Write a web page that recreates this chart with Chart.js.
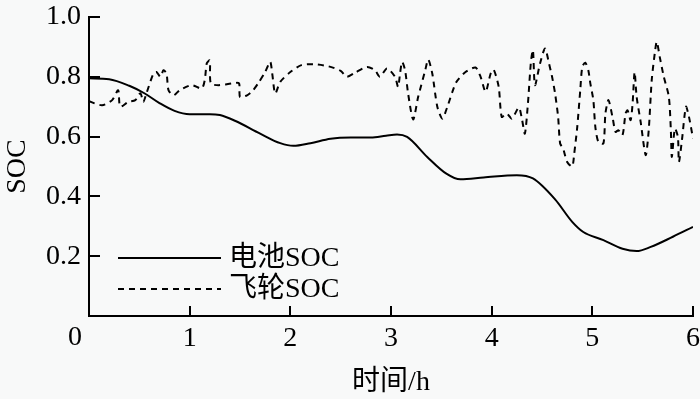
<!DOCTYPE html>
<html>
<head>
<meta charset="utf-8">
<script src="https://cdn.jsdelivr.net/npm/chart.js@4.4.1/dist/chart.umd.min.js"></script>
<style>
html,body{margin:0;padding:0;background:#f8f9f9}
#wrap{width:700px;height:399px}
</style>
</head>
<body>
<div id="wrap"><canvas id="grafico" width="700" height="399"></canvas></div>
<script>
// battery SOC (smooth)
let batTime = [0,0.2,0.4,0.55,0.7,0.85,1.0,1.2,1.3,1.45,1.7,1.9,2.03,2.2,2.4,2.6,2.8,2.95,3.06,3.16,3.36,3.55,3.69,3.92,4.25,4.41,4.63,4.8,4.91,5.11,5.3,5.44,5.58,5.8,6.0]
let batSoc = [0.795,0.792,0.77,0.745,0.712,0.686,0.675,0.675,0.672,0.653,0.61,0.578,0.569,0.578,0.593,0.597,0.597,0.603,0.607,0.599,0.532,0.476,0.457,0.463,0.471,0.46,0.39,0.315,0.281,0.254,0.225,0.217,0.231,0.265,0.298]

// flywheel SOC (jagged)
let flyTime = [0,0.13,0.23,0.29,0.31,0.39,0.46,0.51,0.54,0.57,0.64,0.67,0.71,0.74,0.77,0.79,0.84,0.9,1.02,1.12,1.15,1.17,1.2,1.21,1.29,1.42,1.49,1.5,1.57,1.63,1.68,1.75,1.8,1.82,1.85,1.9,2.0,2.11,2.23,2.38,2.5,2.56,2.64,2.76,2.84,2.89,2.96,3.04,3.07,3.09,3.11,3.14,3.17,3.22,3.27,3.34,3.37,3.41,3.46,3.51,3.56,3.61,3.65,3.74,3.84,3.89,3.94,3.99,4.02,4.07,4.1,4.15,4.2,4.27,4.3,4.33,4.36,4.39,4.41,4.43,4.48,4.53,4.57,4.6,4.63,4.66,4.68,4.71,4.75,4.8,4.82,4.85,4.88,4.9,4.93,4.96,4.98,5.01,5.03,5.06,5.11,5.13,5.16,5.2,5.23,5.26,5.3,5.33,5.35,5.38,5.4,5.42,5.44,5.48,5.53,5.56,5.59,5.62,5.64,5.67,5.71,5.76,5.78,5.79,5.82,5.85,5.86,5.89,5.93,5.96,6.0]
let flySoc = [0.718,0.705,0.722,0.755,0.7,0.716,0.722,0.745,0.716,0.744,0.811,0.816,0.8,0.822,0.811,0.755,0.738,0.755,0.772,0.761,0.789,0.845,0.855,0.778,0.772,0.778,0.778,0.733,0.738,0.755,0.778,0.816,0.85,0.811,0.744,0.783,0.816,0.839,0.842,0.835,0.82,0.8,0.813,0.833,0.822,0.8,0.828,0.8,0.766,0.811,0.85,0.822,0.744,0.657,0.733,0.822,0.858,0.811,0.7,0.66,0.7,0.75,0.783,0.816,0.831,0.8,0.75,0.811,0.824,0.766,0.666,0.677,0.66,0.697,0.66,0.61,0.71,0.85,0.889,0.772,0.844,0.895,0.844,0.8,0.744,0.666,0.577,0.56,0.515,0.5,0.543,0.632,0.755,0.833,0.847,0.822,0.778,0.722,0.632,0.582,0.577,0.677,0.722,0.666,0.616,0.621,0.605,0.677,0.688,0.655,0.711,0.816,0.733,0.649,0.538,0.621,0.789,0.878,0.917,0.866,0.8,0.733,0.621,0.532,0.627,0.599,0.515,0.588,0.7,0.666,0.594]

let xTicks = [0,1,2,3,4,5,6]
let yTicks = [0,0.2,0.4,0.6,0.8,1.0]
let seriesNames = ["电池SOC","飞轮SOC"]

const FONT = '"Liberation Serif","Noto Sans CJK SC",serif'
Chart.defaults.font.family = FONT
Chart.defaults.font.size = 28
Chart.defaults.color = "#000"

function pts(xs,ys){
  return xs.map((t,i)=>({x:t,y:ys[i]}))
}

// inside ticks, corner zero and legend
const decor = {
  id:"decor",
  afterDraw(chart){
    let ctx = chart.ctx
    let a = chart.chartArea
    let sx = chart.scales.x, sy = chart.scales.y
    ctx.save()
    ctx.strokeStyle = "#000"
    ctx.lineWidth = 2
    ctx.beginPath()
    yTicks.slice(1).forEach(v=>{
      let py = Math.round(sy.getPixelForValue(v))
      ctx.moveTo(a.left,py); ctx.lineTo(a.left+11,py)
    })
    xTicks.slice(1).forEach(v=>{
      let px = Math.round(sx.getPixelForValue(v))
      ctx.moveTo(px,a.bottom); ctx.lineTo(px,a.bottom-10)
    })
    ctx.stroke()

    ctx.fillStyle = "#000"
    ctx.font = "28px " + FONT
    ctx.textAlign = "center"
    ctx.textBaseline = "middle"
    ctx.fillText("0", a.left-14, a.bottom+22)

    // legend
    let ds = chart.data.datasets
    let rows = [258, 289]
    ds.forEach((d,i)=>{
      ctx.beginPath()
      ctx.setLineDash(d.borderDash || [])
      ctx.lineWidth = 2
      ctx.moveTo(118, rows[i]); ctx.lineTo(221, rows[i])
      ctx.stroke()
      ctx.setLineDash([])
      ctx.textAlign = "left"
      ctx.fillText(d.label, 229, rows[i]+1)
    })
    ctx.restore()
  }
}

new Chart(document.getElementById("grafico"),{
  type:"line",
  data:{
    datasets:[
      {
        label:seriesNames[0],
        data:pts(batTime,batSoc),
        borderColor:"#000",
        borderWidth:2,
        pointRadius:0,
        cubicInterpolationMode:"monotone"
      },
      {
        label:seriesNames[1],
        data:pts(flyTime,flySoc),
        borderColor:"#000",
        borderWidth:2,
        borderDash:[6,5],
        pointRadius:0,
        tension:0.25
      }
    ]
  },
  options:{
    responsive:false,
    animation:false,
    layout:{padding:{top:17,right:7,left:0,bottom:0}},
    plugins:{legend:{display:false},tooltip:{enabled:false}},
    scales:{
      x:{
        type:"linear",
        min:0,max:6,
        afterFit(s){ s.height = 83; s.paddingLeft = 0; s.paddingRight = 0 },
        afterBuildTicks(s){ s.ticks = xTicks.map(v=>({value:v})) },
        border:{color:"#000",width:2},
        grid:{display:false,drawTicks:false},
        ticks:{padding:6,callback:v=>v===0?"":String(v)},
        title:{display:true,text:"时间/h",padding:{top:0,bottom:0}}
      },
      y:{
        min:0,max:1,
        afterFit(s){ s.width = 89; s.paddingTop = 0; s.paddingBottom = 0 },
        afterBuildTicks(s){ s.ticks = yTicks.map(v=>({value:v})) },
        border:{color:"#000",width:2},
        grid:{display:false,drawTicks:false},
        ticks:{padding:8,callback:v=>v===0?"":v.toFixed(1)},
        title:{display:true,text:"SOC",padding:{top:1,bottom:0}}
      }
    }
  },
  plugins:[decor]
})
</script>
</body>
</html>
